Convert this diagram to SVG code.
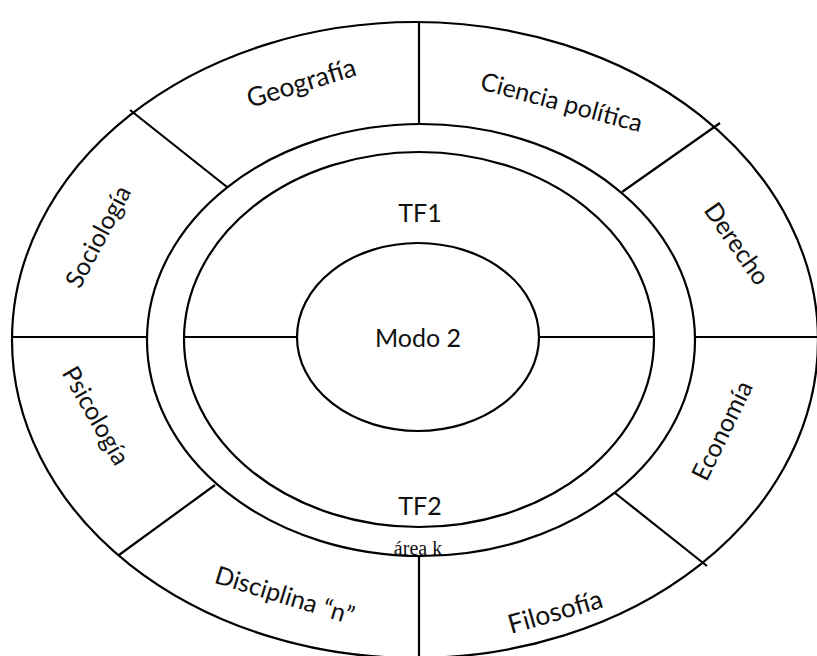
<svg xmlns="http://www.w3.org/2000/svg" width="817" height="656" viewBox="0 0 817 656">
  <style>
    .ring { fill: none; stroke: #000; stroke-width: 2.2; }
    .div { stroke: #000; stroke-width: 2.2; fill: none; }
    .lbl { font-family: Lato, "Open Sans", "Liberation Sans", sans-serif; font-size: 25px; fill: #111; text-anchor: middle; dominant-baseline: central; }
    .big { font-size: 26.5px; }
    .serif { font-family: "Liberation Serif", "DejaVu Serif", serif; font-size: 20px; fill: #111; text-anchor: middle; }
  </style>
  <rect width="817" height="656" fill="#fff"/>

  <!-- concentric rings -->
  <g id="disciplines-ring">
    <ellipse class="ring" cx="415" cy="340" rx="403" ry="318"/>
  </g>
  <g id="tf-band">
    <ellipse class="ring" cx="421" cy="340" rx="274" ry="216"/>
    <ellipse class="ring" cx="419" cy="339.5" rx="235" ry="187.5"/>
  </g>
  <g id="modo2">
    <ellipse class="ring" cx="418" cy="337" rx="121" ry="94"/>
    <text class="lbl" x="418" y="337">Modo 2</text>
  </g>

  <!-- dividers between sectors -->
  <g id="connectors">
    <line class="div" x1="12" y1="337" x2="147" y2="337"/>
    <line class="div" x1="184" y1="337" x2="297" y2="337"/>
    <line class="div" x1="539" y1="337" x2="654" y2="337"/>
    <line class="div" x1="695" y1="337" x2="817" y2="337"/>
    <line class="div" x1="419" y1="22" x2="419" y2="124"/>
    <line class="div" x1="419" y1="555" x2="419" y2="656"/>
    <line class="div" x1="130" y1="110" x2="227" y2="187"/>
    <line class="div" x1="720" y1="123" x2="622" y2="192"/>
    <line class="div" x1="215" y1="485" x2="119" y2="555"/>
    <line class="div" x1="615" y1="493" x2="707" y2="566"/>
  </g>

  <!-- band labels -->
  <g id="tf1"><text class="lbl" x="420" y="212">TF1</text></g>
  <g id="tf2"><text class="lbl" x="420" y="505">TF2</text></g>
  <g id="area-k"><text class="serif" x="418" y="555">área k</text></g>

  <!-- discipline labels -->
  <g id="geografia"><text class="lbl big" transform="translate(301,82) rotate(-17)">Geografía</text></g>
  <g id="ciencia-politica"><text class="lbl" transform="translate(562,101) rotate(15)">Ciencia política</text></g>
  <g id="sociologia"><text class="lbl" transform="translate(97,236) rotate(-62)">Sociología</text></g>
  <g id="derecho"><text class="lbl" transform="translate(738,243) rotate(55)">Derecho</text></g>
  <g id="psicologia"><text class="lbl" transform="translate(97,415) rotate(60)">Psicología</text></g>
  <g id="economia"><text class="lbl" transform="translate(721,430) rotate(-64)">Economía</text></g>
  <g id="disciplina-n"><text class="lbl" transform="translate(285,594) rotate(17)">Disciplina “n”</text></g>
  <g id="filosofia"><text class="lbl big" transform="translate(555,611) rotate(-16)">Filosofía</text></g>
</svg>
